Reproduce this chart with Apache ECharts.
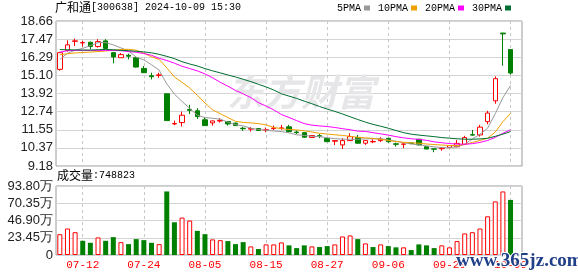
<!DOCTYPE html>
<html><head><meta charset="utf-8">
<script src="https://cdn.jsdelivr.net/npm/echarts@6/dist/echarts.min.js"></script>
<style>html,body{margin:0;padding:0;background:#fff}#c{width:578px;height:276px}</style>
</head><body><div id="c"></div><script>
const stockName = '广和通';
const stockInfo = '[300638] 2024-10-09 15:30';
const latestVolume = 748823;
const dates = ['07-09','07-10','07-11','07-12','07-15','07-16','07-17','07-18','07-19','07-22','07-23','07-24','07-25','07-26','07-29','07-30','07-31','08-01','08-02','08-05','08-06','08-07','08-08','08-09','08-12','08-13','08-14','08-15','08-16','08-19','08-20','08-21','08-22','08-23','08-26','08-27','08-28','08-29','08-30','09-02','09-03','09-04','09-05','09-06','09-09','09-10','09-11','09-12','09-13','09-18','09-19','09-20','09-23','09-24','09-25','09-26','09-27','09-30','10-08','10-09'];
const xTickLabels = ['07-12','07-24','08-05','08-15','08-27','09-06','09-20','10-09'];
const priceTicks = ['9.18','10.37','11.55','12.74','13.92','15.10','16.29','17.47','18.66'];
const volTicks = ['0','23.45万','46.90万','70.35万','93.80万'];
const opens = [15.50,16.74,17.33,17.23,17.27,16.99,17.36,16.59,16.26,16.42,16.26,15.56,15.08,15.10,13.90,11.93,12.02,12.88,12.79,12.20,12.00,12.12,12.09,11.98,11.65,11.59,11.63,11.52,11.62,11.64,11.74,11.40,11.36,11.04,11.16,10.97,10.80,10.56,10.84,11.04,10.67,10.76,10.84,10.99,10.63,10.60,10.68,10.93,10.44,10.30,10.31,10.38,10.44,10.60,11.23,11.21,12.08,13.44,17.87,16.79];
const closes = [16.59,17.10,17.36,17.25,16.99,17.31,16.87,16.31,16.46,16.36,15.65,15.28,15.02,15.14,12.15,11.96,12.50,12.82,12.41,11.82,12.13,12.16,11.93,11.82,11.62,11.63,11.50,11.55,11.66,11.67,11.43,11.36,11.06,11.17,11.13,10.77,10.84,10.84,11.10,10.67,10.84,10.78,10.93,10.77,10.60,10.62,10.66,10.56,10.29,10.28,10.34,10.51,10.66,11.04,11.20,11.72,12.64,14.89,17.82,15.26];
const lows = [15.41,16.66,17.03,16.99,16.81,16.92,16.85,15.89,16.25,16.15,15.62,15.26,14.84,14.95,12.13,11.85,11.76,12.57,12.26,11.80,11.82,12.02,11.82,11.80,11.47,11.43,11.48,11.39,11.54,11.54,11.36,11.28,11.04,11.02,11.00,10.75,10.55,10.29,10.82,10.65,10.56,10.67,10.75,10.70,10.45,10.34,10.60,10.54,10.27,10.08,10.18,10.35,10.40,10.55,11.16,11.10,11.91,13.25,15.74,15.15];
const highs = [16.64,17.40,17.51,17.36,17.31,17.47,17.47,16.62,16.57,16.53,16.28,15.72,15.28,15.28,13.92,12.15,12.74,13.18,12.96,12.35,12.15,12.31,12.12,12.02,11.74,11.72,11.65,11.69,11.82,11.87,11.87,11.50,11.38,11.20,11.28,11.00,10.88,11.00,11.32,11.21,10.86,10.93,11.06,11.02,10.71,10.66,10.71,10.95,10.46,10.31,10.42,10.55,10.88,11.15,11.54,11.87,12.79,15.04,17.89,16.80];
const ma5 = [16.15,16.55,16.75,16.87,17.05,17.25,17.25,17.10,16.90,16.70,16.30,16.12,15.80,15.45,14.55,13.88,13.40,12.95,12.50,12.35,12.30,12.24,12.05,11.88,11.80,11.65,11.57,11.52,11.47,11.43,11.35,11.22,11.18,11.12,11.10,11.03,10.97,10.93,10.93,10.93,10.95,10.96,10.97,10.88,10.80,10.70,10.62,10.56,10.50,10.43,10.38,10.38,10.44,10.60,10.95,11.25,11.65,12.60,13.65,14.45];
const ma10 = [16.45,16.52,16.57,16.60,16.63,16.66,16.70,16.74,16.80,16.81,16.75,16.55,16.32,16.15,15.60,15.00,14.65,14.28,13.80,13.30,12.85,12.60,12.35,12.10,12.03,12.00,11.95,11.87,11.70,11.62,11.57,11.54,11.48,11.40,11.32,11.27,11.22,11.18,11.12,11.06,11.02,10.98,10.92,10.85,10.78,10.73,10.70,10.67,10.62,10.58,10.55,10.52,10.52,10.58,10.72,10.85,11.00,11.40,12.08,12.62];
const ma20 = [16.62,16.72,16.74,16.74,16.74,16.74,16.74,16.74,16.72,16.66,16.62,16.53,16.42,16.22,16.08,15.90,15.70,15.55,15.40,15.20,14.95,14.65,14.40,14.12,13.90,13.65,13.32,13.10,12.85,12.55,12.35,12.15,11.95,11.85,11.80,11.76,11.70,11.62,11.55,11.46,11.44,11.36,11.28,11.20,11.10,11.02,10.96,10.92,10.86,10.76,10.70,10.65,10.61,10.60,10.64,10.72,10.85,11.05,11.32,11.55];
const ma30 = [16.79,16.78,16.77,16.76,16.76,16.78,16.80,16.78,16.74,16.72,16.68,16.64,16.58,16.48,16.35,16.20,16.00,15.85,15.72,15.55,15.40,15.27,15.13,15.00,14.85,14.70,14.52,14.35,14.15,13.90,13.75,13.60,13.42,13.25,13.07,12.90,12.75,12.58,12.40,12.22,12.05,11.90,11.78,11.65,11.50,11.36,11.26,11.20,11.15,11.10,11.04,11.00,10.96,10.93,10.93,10.95,10.99,11.12,11.26,11.43];
const volumes = [283000,360000,310000,193000,166000,239000,193000,243000,175000,148000,216000,202000,166000,148000,864000,445000,509000,468000,328000,283000,212000,202000,189000,148000,175000,117000,81000,144000,144000,171000,131000,94000,131000,117000,108000,121000,144000,252000,266000,216000,158000,108000,144000,121000,104000,104000,67000,144000,131000,94000,131000,104000,189000,293000,310000,360000,526000,729000,864000,748823];
const volDir = [1,1,1,-1,-1,1,-1,-1,1,-1,-1,-1,-1,1,-1,-1,1,1,-1,-1,1,1,-1,-1,-1,1,-1,1,1,1,-1,-1,-1,1,-1,-1,1,1,1,-1,1,-1,1,-1,-1,1,-1,-1,-1,-1,1,1,1,1,1,1,1,1,1,-1];
const maNames = ['5PMA','10PMA','20PMA','30PMA'];
const maColors = ['#999999','#f0a000','#ff00ff','#006e30'];

const RED = '#ff0000', GREEN = '#008000';
const cats = dates.concat(['']);
const showTick = (i, v) => xTickLabels.indexOf(v) >= 0;
const chart = echarts.init(document.getElementById('c'), null, {renderer: 'canvas'});
const xBase = (gi, showLabel) => ({
  type: 'category', gridIndex: gi, data: cats, boundaryGap: true,
  axisLine: {show: false}, axisTick: {show: false},
  axisLabel: {show: showLabel, interval: showTick, color: RED, fontFamily: 'Liberation Mono', fontSize: 11, margin: 5},
  splitLine: {show: true, interval: showTick, alignWithLabel: true, lineStyle: {type: [3, 3], color: '#c8c8c8', width: 1}}
});
const yLabelStyle = {color: '#222', fontFamily: 'Liberation Sans', fontSize: 13, margin: 3};
const richTitle = {
  a: {fontFamily: 'Noto Sans CJK SC', fontSize: 12, fontWeight: 'normal', color: '#000'},
  b: {fontFamily: 'Liberation Mono', fontSize: 10, fontWeight: 'normal', color: '#000'}
};
chart.setOption({
  animation: false,
  backgroundColor: '#fff',
  title: [
    {text: '{a|' + stockName + '}{b|' + stockInfo + '}', left: 55, top: 1, padding: 0,
     textStyle: {fontWeight: 'normal', rich: richTitle}},
    {text: '{a|成交量}{b|:' + latestVolume + '}', left: 57, top: 169, padding: 0,
     textStyle: {fontWeight: 'normal', rich: richTitle}}
  ],
  legend: {
    data: maNames, left: 337, top: 3, padding: 0, align: 'right', icon: 'rect',
    itemWidth: 6, itemHeight: 5, itemGap: 8, selectedMode: false,
    textStyle: {fontFamily: 'Liberation Mono', fontSize: 10, color: '#000', padding: [0, -2, 0, 0]}
  },
  graphic: [
    {type: 'text', left: 227, top: 73, z: 1, silent: true,
     style: {text: '东方财富', font: 'italic bold 37px "Noto Sans CJK SC"', fill: '#e6e6e9'}},
    {type: 'text', left: 455, top: 251, z: 100, silent: true,
     style: {text: 'www.365jz.com', font: 'bold 19px "Liberation Serif"', fill: '#203f88', stroke: '#fff', lineWidth: 2}}
  ],
  grid: [
    {left: 56, right: 56, top: 21, height: 145, show: true, borderColor: '#9a9a9a', borderWidth: 1},
    {left: 56, right: 56, top: 186, height: 69, show: true, borderColor: '#9a9a9a', borderWidth: 1}
  ],
  xAxis: [xBase(0, false), xBase(1, true)],
  yAxis: [
    {type: 'value', gridIndex: 0, min: 9.18, max: 18.66, interval: 1.185, scale: true,
     axisLine: {show: false}, axisTick: {show: false},
     axisLabel: Object.assign({formatter: v => priceTicks[Math.round((v - 9.18) / 1.185)]}, yLabelStyle),
     splitLine: {lineStyle: {color: '#d4d4d4', width: 1}}},
    {type: 'value', gridIndex: 1, min: 0, max: 938000, interval: 234500,
     axisLine: {show: false}, axisTick: {show: false},
     axisLabel: Object.assign({formatter: v => volTicks[Math.round(v / 234500)]}, yLabelStyle),
     splitLine: {lineStyle: {color: '#d4d4d4', width: 1}}}
  ],
  series: [
    {type: 'candlestick', name: 'K', xAxisIndex: 0, yAxisIndex: 0, barWidth: 5,
     data: dates.map((d, i) => [opens[i], closes[i], lows[i], highs[i]]),
     itemStyle: {color: '#ffffff', borderColor: RED, color0: GREEN, borderColor0: GREEN, borderWidth: 1}}
  ].concat([ma5, ma10, ma20, ma30].map((arr, k) => ({
    type: 'line', name: maNames[k], xAxisIndex: 0, yAxisIndex: 0, data: arr,
    symbol: 'none', color: maColors[k], lineStyle: {width: 1, color: maColors[k]}, z: 3
  }))).concat([
    {type: 'bar', name: 'VOL', xAxisIndex: 1, yAxisIndex: 1, barWidth: 5,
     data: volumes.map((v, i) => ({value: v, itemStyle: volDir[i] > 0 ? {color: '#ffffff', borderColor: RED, borderWidth: 1} : {color: GREEN}}))}
  ])
});
</script></body></html>
